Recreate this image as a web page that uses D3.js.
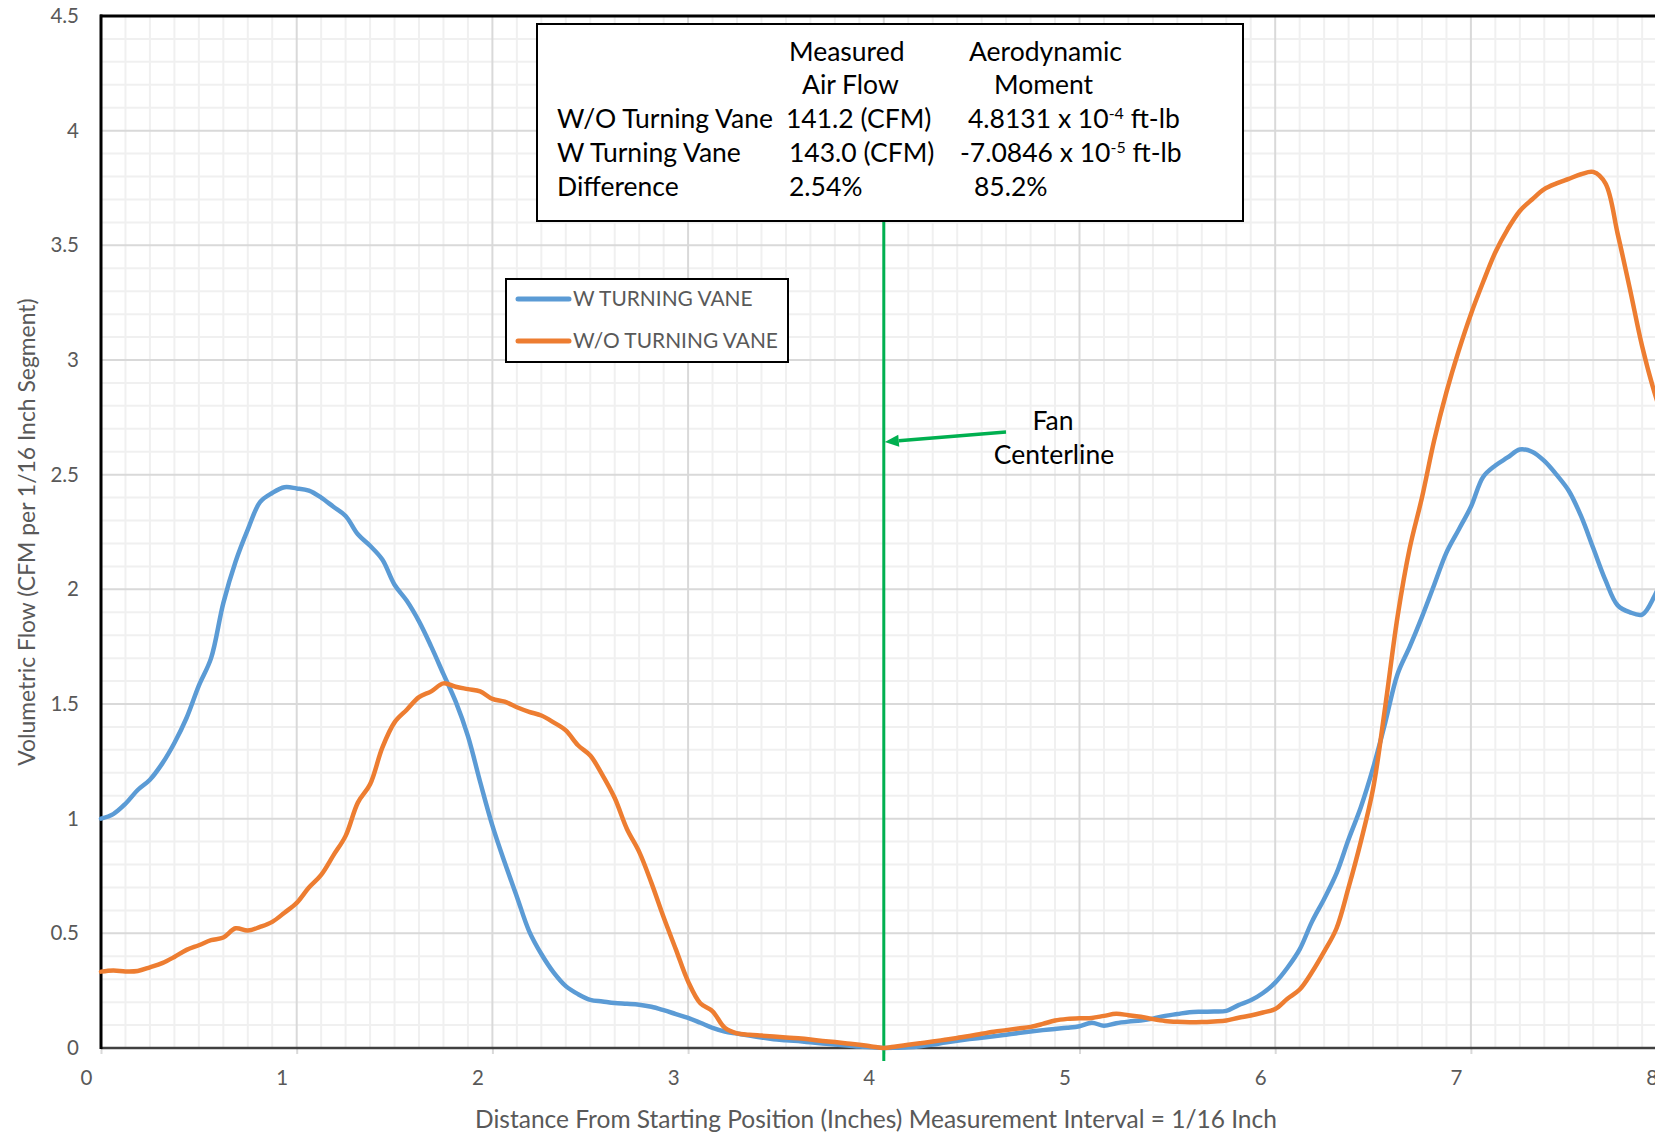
<!DOCTYPE html>
<html>
<head>
<meta charset="utf-8">
<script src="https://cdn.jsdelivr.net/npm/d3@7"></script>
<style>
  html, body { margin: 0; padding: 0; background: #fff; overflow: hidden; }
  text { font-family: Lato, "Open Sans", sans-serif; }
</style>
</head>
<body>
<svg id="chart" width="1655" height="1135"></svg>
<script>
// Volumetric flow per 1/16 inch segment, sampled every 1/16 inch from the start position
const wVane = [
  1.00, 1.02, 1.065, 1.125, 1.17, 1.24, 1.33, 1.44, 1.58, 1.70, 1.94, 2.12, 2.26, 2.38, 2.42, 2.445,
  2.44, 2.43, 2.40, 2.36, 2.32, 2.24, 2.19, 2.13, 2.02, 1.95, 1.86, 1.75, 1.63, 1.51, 1.36, 1.16,
  0.97, 0.81, 0.66, 0.51, 0.41, 0.33, 0.27, 0.235, 0.21, 0.203, 0.196, 0.193, 0.189, 0.18, 0.165, 0.148,
  0.131, 0.11, 0.088, 0.072, 0.063, 0.054, 0.046, 0.038, 0.034, 0.03, 0.025, 0.02, 0.015, 0.011, 0.006, 0.003,
  0.0, 0.001, 0.003, 0.008, 0.015, 0.024, 0.032, 0.039, 0.045, 0.051, 0.058, 0.065, 0.072, 0.078, 0.083, 0.088,
  0.095, 0.11, 0.097, 0.108, 0.115, 0.12, 0.128, 0.14, 0.148, 0.156, 0.158, 0.159, 0.162, 0.187, 0.208, 0.24,
  0.285, 0.35, 0.43, 0.55, 0.65, 0.76, 0.91, 1.05, 1.22, 1.42, 1.63, 1.75, 1.88, 2.02, 2.16, 2.26,
  2.36, 2.49, 2.54, 2.575, 2.61, 2.60, 2.56, 2.50, 2.43, 2.32, 2.18, 2.04, 1.93, 1.90, 1.89, 1.97,
  2.10
];
const woVane = [
  0.333, 0.338, 0.334, 0.336, 0.352, 0.37, 0.397, 0.428, 0.448, 0.47, 0.482, 0.522, 0.512, 0.528, 0.55, 0.59,
  0.633, 0.70, 0.755, 0.84, 0.925, 1.07, 1.15, 1.31, 1.42, 1.475, 1.53, 1.555, 1.59, 1.575, 1.565, 1.555,
  1.522, 1.51, 1.486, 1.466, 1.45, 1.42, 1.385, 1.32, 1.275, 1.19, 1.09, 0.955, 0.855, 0.72, 0.57, 0.43,
  0.29, 0.195, 0.16, 0.088, 0.064, 0.058, 0.054, 0.05, 0.046, 0.042, 0.037, 0.031, 0.026, 0.02, 0.014, 0.007,
  0.0, 0.007, 0.014, 0.021, 0.028, 0.036, 0.044, 0.052, 0.062, 0.071, 0.078, 0.085, 0.092, 0.105, 0.12, 0.127,
  0.13, 0.131, 0.14, 0.149, 0.143, 0.136, 0.126, 0.118, 0.114, 0.112, 0.113, 0.116, 0.12, 0.132, 0.142, 0.155,
  0.17, 0.215, 0.255, 0.33, 0.42, 0.52, 0.70, 0.90, 1.13, 1.49, 1.88, 2.18, 2.40, 2.65, 2.86, 3.04,
  3.20, 3.34, 3.47, 3.57, 3.65, 3.70, 3.745, 3.77, 3.79, 3.81, 3.82, 3.77, 3.55, 3.31, 3.06, 2.86,
  2.70
];
const sampleStep = 1 / 16; // measurement interval, inches

const xTicks = [0, 1, 2, 3, 4, 5, 6, 7, 8];
const yTicks = [0, 0.5, 1, 1.5, 2, 2.5, 3, 3.5, 4, 4.5];
const yTickLabels = ["0", "0.5", "1", "1.5", "2", "2.5", "3", "3.5", "4", "4.5"];
const seriesNames = ["W TURNING VANE", "W/O TURNING VANE"];
const seriesColors = ["#5b9bd5", "#ed7d31"];
const fanCenterline = 4.0;

const xTitle = "Distance From Starting Position (Inches) Measurement Interval = 1/16 Inch";
const yTitle = "Volumetric Flow (CFM per 1/16 Inch Segment)";

// Summary table
const tableHeads = [["Measured", "Aerodynamic"], ["Air Flow", "Moment"]];
const tableRows = ["W/O Turning Vane", "W Turning Vane", "Difference"];
const airFlow = ["141.2 (CFM)", "143.0 (CFM)", "2.54%"];
const momentMantissa = ["4.8131 x 10", "-7.0846 x 10", "85.2%"];
const momentExponent = ["-4", "-5", null];

const svg = d3.select("#chart");
const W = 1655, H = 1135;
const plot = { left: 101, top: 16, bottom: 1048 };

const x = d3.scaleLinear().domain([0, 8]).range([plot.left, plot.left + 8 * 195.7]);
const y = d3.scaleLinear().domain([0, 4.5]).range([plot.bottom, plot.top]);

svg.append("rect").attr("width", W).attr("height", H).attr("fill", "#fff");

// Grid: minor (1/8 inch, 0.1 CFM) then major
const g = svg.append("g");
const xMinor = d3.range(0, 8.001, 0.125).filter(v => Math.abs(v - Math.round(v)) > 1e-6);
const yMinor = d3.range(0, 4.501, 0.1).filter(v => Math.abs(v * 2 - Math.round(v * 2)) > 1e-6);
g.selectAll(".xm").data(xMinor).join("line")
  .attr("x1", d => x(d)).attr("x2", d => x(d)).attr("y1", plot.top).attr("y2", plot.bottom)
  .attr("stroke", "#f0f0f0").attr("stroke-width", 2);
g.selectAll(".ym").data(yMinor).join("line")
  .attr("x1", plot.left).attr("x2", x(8)).attr("y1", d => y(d)).attr("y2", d => y(d))
  .attr("stroke", "#f0f0f0").attr("stroke-width", 2);
g.selectAll(".xM").data(xTicks.slice(1)).join("line")
  .attr("x1", d => x(d)).attr("x2", d => x(d)).attr("y1", plot.top).attr("y2", plot.bottom)
  .attr("stroke", "#d9d9d9").attr("stroke-width", 2);
g.selectAll(".yM").data(yTicks.slice(1)).join("line")
  .attr("x1", plot.left).attr("x2", x(8)).attr("y1", d => y(d)).attr("y2", d => y(d))
  .attr("stroke", "#d9d9d9").attr("stroke-width", 2);

// Axes
const xAxis = svg.append("g").attr("transform", `translate(0,${plot.bottom})`)
  .call(d3.axisBottom(x).tickValues(xTicks).tickFormat(d3.format("d")).tickSize(6).tickSizeOuter(0).tickPadding(16));
xAxis.select(".domain").remove();
xAxis.selectAll(".tick line").attr("stroke", "#d9d9d9").attr("stroke-width", 2);
xAxis.selectAll(".tick text").attr("fill", "#595959").attr("font-size", 20.5).attr("dx", -15);

const yAxis = svg.append("g").attr("transform", `translate(${plot.left},0)`)
  .call(d3.axisLeft(y).tickValues(yTicks).tickFormat((d, i) => yTickLabels[i]).tickSize(0).tickPadding(22));
yAxis.select(".domain").remove();
yAxis.selectAll(".tick text").attr("fill", "#595959").attr("font-size", 20.5);

// Plot border and axis line
svg.append("line").attr("x1", plot.left - 1).attr("x2", W).attr("y1", plot.top).attr("y2", plot.top)
  .attr("stroke", "#000").attr("stroke-width", 3);
svg.append("line").attr("x1", plot.left).attr("x2", x(8)).attr("y1", plot.bottom).attr("y2", plot.bottom)
  .attr("stroke", "#404040").attr("stroke-width", 2.5);
svg.append("line").attr("x1", plot.left).attr("x2", plot.left).attr("y1", plot.top - 1.5).attr("y2", plot.bottom + 1)
  .attr("stroke", "#000").attr("stroke-width", 3);

// Fan centerline (runs from beneath the summary box down past the axis)
svg.append("line").attr("x1", x(fanCenterline)).attr("x2", x(fanCenterline))
  .attr("y1", 221).attr("y2", plot.bottom + 13)
  .attr("stroke", "#00b050").attr("stroke-width", 3);

// Series
const line = d3.line()
  .x((d, i) => x(i * sampleStep))
  .y(d => y(d))
  .curve(d3.curveCatmullRom.alpha(0.5));
[wVane, woVane].forEach((s, k) => {
  svg.append("path").datum(s).attr("d", line)
    .attr("fill", "none").attr("stroke", seriesColors[k]).attr("stroke-width", 4.5)
    .attr("stroke-linejoin", "round").attr("stroke-linecap", "round");
});

// Summary table box
const tb = svg.append("g");
tb.append("rect").attr("x", 537).attr("y", 24).attr("width", 706).attr("height", 197)
  .attr("fill", "#fff").attr("stroke", "#000").attr("stroke-width", 2);
const rowY = [52, 85, 119, 153, 187];
const tfs = 26.5;
function t(xp, yp, str) {
  return tb.append("text").attr("x", xp).attr("y", yp).attr("dy", "0.35em")
    .attr("font-size", tfs).attr("fill", "#000").text(str);
}
t(789, rowY[0], tableHeads[0][0]);
t(969, rowY[0], tableHeads[0][1]);
t(802, rowY[1], tableHeads[1][0]);
t(994, rowY[1], tableHeads[1][1]);
const col2X = [786, 789, 789];
const col3X = [968, 960, 974];
tableRows.forEach((r, i) => {
  const yy = rowY[i + 2];
  t(557, yy, r);
  t(col2X[i], yy, airFlow[i]);
  const m = t(col3X[i], yy, momentMantissa[i]);
  if (momentExponent[i]) {
    m.append("tspan").attr("font-size", 16).attr("dy", "-0.55em").text(momentExponent[i]);
    m.append("tspan").attr("font-size", tfs).attr("dy", "0.33em").text(" ft-lb");
  }
});

// Legend
const lg = svg.append("g");
lg.append("rect").attr("x", 506).attr("y", 279).attr("width", 282).attr("height", 83)
  .attr("fill", "#fff").attr("stroke", "#000").attr("stroke-width", 2);
seriesNames.forEach((n, i) => {
  const yy = 299 + i * 42;
  lg.append("line").attr("x1", 518).attr("x2", 569).attr("y1", yy).attr("y2", yy)
    .attr("stroke", seriesColors[i]).attr("stroke-width", 5).attr("stroke-linecap", "round");
  lg.append("text").attr("x", 573).attr("y", yy).attr("dy", "0.35em")
    .attr("font-size", 20.9).attr("fill", "#595959").text(n);
});

// Fan centerline callout
const ax0 = 1006, ay0 = 432, ax1 = x(fanCenterline) + 1, ay1 = 442;
const ang = Math.atan2(ay1 - ay0, ax1 - ax0);
const hl = 14, hw = 6;
const bx = ax1 - hl * Math.cos(ang), by = ay1 - hl * Math.sin(ang);
svg.append("line").attr("x1", ax0).attr("y1", ay0).attr("x2", bx).attr("y2", by)
  .attr("stroke", "#00b050").attr("stroke-width", 3.5);
svg.append("path")
  .attr("d", `M${ax1},${ay1} L${bx + hw * Math.sin(ang)},${by - hw * Math.cos(ang)} L${bx - hw * Math.sin(ang)},${by + hw * Math.cos(ang)} Z`)
  .attr("fill", "#00b050");
svg.append("text").attr("x", 1053).attr("y", 421).attr("dy", "0.35em").attr("text-anchor", "middle")
  .attr("font-size", 26.5).attr("fill", "#000").text("Fan");
svg.append("text").attr("x", 1054).attr("y", 455).attr("dy", "0.35em").attr("text-anchor", "middle")
  .attr("font-size", 26.5).attr("fill", "#000").text("Centerline");

// Axis titles
svg.append("text").attr("x", 876).attr("y", 1119).attr("dy", "0.35em").attr("text-anchor", "middle")
  .attr("font-size", 24.5).attr("fill", "#595959").text(xTitle);
svg.append("text").attr("transform", "translate(27,532) rotate(-90)").attr("dy", "0.35em")
  .attr("text-anchor", "middle").attr("font-size", 22.9).attr("fill", "#595959").text(yTitle);
</script>
</body>
</html>
